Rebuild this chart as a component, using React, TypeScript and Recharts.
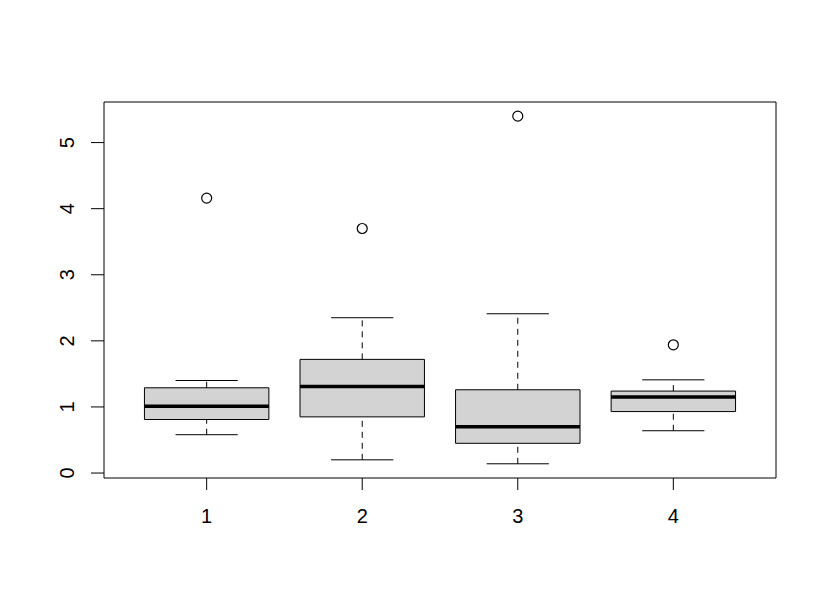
import {
  ComposedChart,
  XAxis,
  YAxis,
  Scatter,
  ReferenceArea,
  ReferenceLine,
} from 'recharts'

const groups = [1, 2, 3, 4]
const lowerWhisker = [0.58, 0.2, 0.14, 0.64]
const q1 = [0.81, 0.85, 0.45, 0.93]
const median = [1.01, 1.31, 0.7, 1.15]
const q3 = [1.29, 1.72, 1.26, 1.24]
const upperWhisker = [1.4, 2.35, 2.41, 1.41]
const outliers = [4.16, 3.7, 5.4, 1.94]
const yTicks = [0, 1, 2, 3, 4, 5]

const xDomain = [0.34, 4.66]
const yDomain = [-0.075, 5.614]
const BOX_HALF = 0.4
const CAP_HALF = 0.2
const FONT = 'Liberation Sans, Arial, Helvetica, sans-serif'

const outlierData = groups.map((g, i) => ({ x: g, y: outliers[i] }))

const OpenCircle = (props: any) => (
  <circle cx={props.cx} cy={props.cy} r={5} fill="none" stroke="#000" strokeWidth={1.2} />
)

const YTick = ({ x, y, payload }: any) => (
  <text
    x={x}
    y={y}
    transform={`rotate(-90, ${x}, ${y})`}
    textAnchor="middle"
    fontSize={20}
    fontFamily={FONT}
    fill="#000"
  >
    {payload.value}
  </text>
)

export default function App() {
  return (
    <div style={{ position: 'absolute', left: 0, top: 0 }}>
      <ComposedChart
        width={830}
        height={608}
        data={outlierData}
        margin={{ top: 102, right: 54, bottom: 70, left: 0 }}
      >
        <XAxis
          dataKey="x"
          type="number"
          domain={xDomain}
          ticks={groups}
          allowDataOverflow
          axisLine={{ stroke: '#000' }}
          tickLine={{ stroke: '#000' }}
          tickSize={12}
          tickMargin={19}
          height={60}
          tick={{ fill: '#000', fontSize: 20, fontFamily: FONT }}
        />
        <YAxis
          type="number"
          domain={yDomain}
          ticks={yTicks}
          allowDataOverflow
          width={104}
          axisLine={{ stroke: '#000' }}
          tickLine={{ stroke: '#000' }}
          tickSize={13}
          tickMargin={17}
          tick={<YTick />}
        />
        <ReferenceLine y={yDomain[1]} stroke="#000" ifOverflow="visible" />
        <ReferenceLine x={xDomain[1]} stroke="#000" ifOverflow="visible" />
        {groups.map((g, i) => (
          <ReferenceLine
            key={`wl${g}`}
            segment={[{ x: g, y: lowerWhisker[i] }, { x: g, y: q1[i] }]}
            stroke="#000"
            strokeDasharray="6 5"
          />
        ))}
        {groups.map((g, i) => (
          <ReferenceLine
            key={`wu${g}`}
            segment={[{ x: g, y: q3[i] }, { x: g, y: upperWhisker[i] }]}
            stroke="#000"
            strokeDasharray="6 5"
          />
        ))}
        {groups.map((g, i) => (
          <ReferenceLine
            key={`cl${g}`}
            segment={[{ x: g - CAP_HALF, y: lowerWhisker[i] }, { x: g + CAP_HALF, y: lowerWhisker[i] }]}
            stroke="#000"
          />
        ))}
        {groups.map((g, i) => (
          <ReferenceLine
            key={`cu${g}`}
            segment={[{ x: g - CAP_HALF, y: upperWhisker[i] }, { x: g + CAP_HALF, y: upperWhisker[i] }]}
            stroke="#000"
          />
        ))}
        {groups.map((g, i) => (
          <ReferenceArea
            key={`box${g}`}
            x1={g - BOX_HALF}
            x2={g + BOX_HALF}
            y1={q1[i]}
            y2={q3[i]}
            fill="#d3d3d3"
            fillOpacity={1}
            stroke="#000"
            strokeWidth={1}
          />
        ))}
        {groups.map((g, i) => (
          <ReferenceLine
            key={`med${g}`}
            segment={[{ x: g - BOX_HALF, y: median[i] }, { x: g + BOX_HALF, y: median[i] }]}
            stroke="#000"
            strokeWidth={3.5}
          />
        ))}
        <Scatter dataKey="y" shape={<OpenCircle />} isAnimationActive={false} />
      </ComposedChart>
    </div>
  )
}
